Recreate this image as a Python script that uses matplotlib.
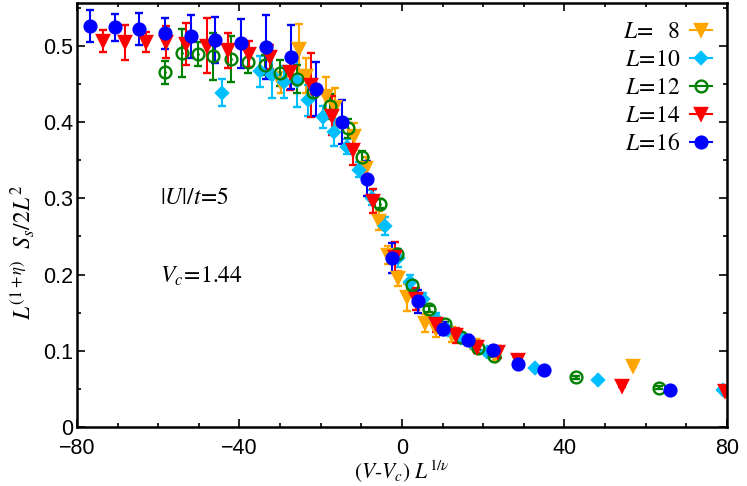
import numpy as np
import matplotlib
matplotlib.use("Agg")
import matplotlib.pyplot as plt
import matplotlib.ticker as ticker

plt.rcParams['font.family'] = ['Liberation Sans', 'DejaVu Sans']
plt.rcParams['mathtext.fontset'] = 'stix'

# scaled data
x_L8 = [-29.8, -25.4, -23.5, -18.6, -16.5, -11.9, -8.8, -5.6, -3.4, -0.9, 1.2, 5.6, 8.5, 12.4, 17.5, 23.2, 56.9]
y_L8 = [0.452, 0.496, 0.461, 0.435, 0.420, 0.382, 0.340, 0.271, 0.226, 0.195, 0.170, 0.136, 0.128, 0.121, 0.108, 0.093, 0.080]
e_L8 = [0.014, 0.033, 0.023, 0.025, 0.025, 0.017, 0.015, 0.012, 0.012, 0.010, 0.018, 0.012, 0.010, 0.010, 0.006, 0.005, 0.002]

x_L10 = [-44.3, -35.0, -32.0, -29.0, -25.9, -23.2, -19.5, -16.6, -13.6, -10.5, -7.3, -4.1, -1.0, 2.0, 5.1, 8.3, 11.4, 14.6, 17.8, 21.0, 32.7, 48.3, 79.1]
y_L10 = [0.439, 0.467, 0.462, 0.453, 0.455, 0.429, 0.407, 0.387, 0.368, 0.338, 0.301, 0.264, 0.222, 0.190, 0.168, 0.142, 0.127, 0.117, 0.108, 0.098, 0.077, 0.061, 0.048]
e_L10 = [0.018, 0.020, 0.030, 0.021, 0.035, 0.020, 0.015, 0.018, 0.010, 0.010, 0.010, 0.012, 0.012, 0.010, 0.008, 0.008, 0.006, 0.005, 0.004, 0.004, 0.002, 0.002, 0.002]

x_L12 = [-58.3, -54.2, -50.1, -46.4, -42.0, -37.8, -33.6, -30.0, -25.8, -22.0, -17.7, -13.3, -9.7, -5.5, -1.3, 2.5, 6.6, 10.7, 14.6, 18.7, 22.6, 42.9, 63.3]
y_L12 = [0.466, 0.491, 0.490, 0.487, 0.483, 0.479, 0.475, 0.465, 0.457, 0.440, 0.421, 0.392, 0.355, 0.293, 0.227, 0.186, 0.155, 0.135, 0.118, 0.104, 0.093, 0.065, 0.051]
e_L12 = [0.015, 0.032, 0.016, 0.031, 0.030, 0.014, 0.013, 0.017, 0.018, 0.011, 0.016, 0.012, 0.008, 0.006, 0.006, 0.005, 0.004, 0.003, 0.003, 0.003, 0.002, 0.002, 0.002]

x_L14 = [-73.5, -68.2, -63.1, -58.1, -53.2, -47.9, -42.7, -37.6, -32.5, -27.6, -22.4, -17.2, -12.1, -7.0, -1.8, 3.5, 8.4, 13.4, 18.4, 23.6, 28.7, 54.2, 79.5]
y_L14 = [0.507, 0.505, 0.506, 0.506, 0.503, 0.501, 0.495, 0.490, 0.486, 0.466, 0.449, 0.409, 0.364, 0.297, 0.223, 0.168, 0.135, 0.120, 0.105, 0.098, 0.088, 0.054, 0.047]
e_L14 = [0.014, 0.023, 0.013, 0.021, 0.027, 0.036, 0.023, 0.017, 0.016, 0.023, 0.042, 0.026, 0.020, 0.016, 0.020, 0.014, 0.010, 0.010, 0.008, 0.008, 0.004, 0.002, 0.002]

x_L16 = [-76.9, -70.7, -64.7, -58.3, -52.0, -46.0, -39.6, -33.5, -27.3, -21.2, -14.8, -8.6, -2.4, 3.9, 10.2, 16.2, 22.4, 28.7, 34.9, 66.0]
y_L16 = [0.527, 0.525, 0.523, 0.517, 0.513, 0.508, 0.504, 0.499, 0.486, 0.444, 0.400, 0.326, 0.222, 0.165, 0.129, 0.114, 0.101, 0.083, 0.075, 0.048]
e_L16 = [0.021, 0.018, 0.021, 0.020, 0.028, 0.030, 0.032, 0.042, 0.042, 0.035, 0.029, 0.023, 0.020, 0.015, 0.008, 0.006, 0.005, 0.003, 0.002, 0.002]

labels = [r'$\mathit{L\!=\ \ 8}$', r'$\mathit{L\!=\!10}$', r'$\mathit{L\!=\!12}$',
          r'$\mathit{L\!=\!14}$', r'$\mathit{L\!=\!16}$']

series = [
    (x_L8, y_L8, e_L8, 'orange', 'v', True),
    (x_L10, y_L10, e_L10, 'deepskyblue', 'D', True),
    (x_L12, y_L12, e_L12, 'green', 'o', False),
    (x_L14, y_L14, e_L14, 'red', 'v', True),
    (x_L16, y_L16, e_L16, 'blue', 'o', True),
]

fig = plt.figure(figsize=(7.47, 4.86), dpi=100)
ax = fig.add_axes([0.103, 0.122, 0.870, 0.872])

handles = []
for (xs, ys, es, col, mk, filled), lab in zip(series, labels):
    ms = 6.5 if mk == 'D' else 8.5
    mfc = col if filled else 'none'
    ax.errorbar(xs, ys, yerr=es, fmt=mk, color=col, ms=ms, mfc=mfc, mec=col,
                mew=1.7, elinewidth=1.5, capsize=3, capthick=1.5)
    if not filled:
        ax.plot(xs, ys, '.', color=col, ms=2)
    # legend proxy: gnuplot style horizontal bar with caps
    h = ax.errorbar([], [], xerr=[], fmt=mk, color=col, ms=ms, mfc=mfc, mec=col,
                    mew=1.7, elinewidth=1.5, capsize=3, capthick=1.5)
    handles.append(h)

ax.legend(handles, labels, loc='upper right', bbox_to_anchor=(1.0, 0.99),
          markerfirst=False, frameon=False, fontsize=17, handlelength=1.0,
          handletextpad=0.35, labelspacing=0.25, borderaxespad=0.2)

ax.text(-59.5, 0.30, r'$|U|/t\!=\!\mathit{5}$', fontsize=17, va='center')
ax.text(-59.5, 0.198, r'$V_c\!=\!\mathit{1.44}$', fontsize=17, va='center')

ax.set_xlim(-80, 80)
ax.set_ylim(0, 0.557)
ax.xaxis.set_major_locator(ticker.MultipleLocator(40))
ax.xaxis.set_minor_locator(ticker.MultipleLocator(10))
ax.yaxis.set_major_locator(ticker.MultipleLocator(0.1))
ax.yaxis.set_minor_locator(ticker.MultipleLocator(0.05))
ax.yaxis.set_major_formatter(ticker.FormatStrFormatter('%g'))
ax.tick_params(which='both', direction='in', top=True, right=True, width=1.2, labelsize=15.5)
ax.tick_params(which='major', length=6)
ax.tick_params(which='minor', length=3)
ax.tick_params(axis='x', pad=8)
ax.tick_params(axis='y', pad=3)
for s in ax.spines.values():
    s.set_linewidth(1.8)

ax.set_xlabel(r'$(V\text{-}V_c)\ L^{\mathit{1}/\nu}$', fontsize=15.5, labelpad=0)
ax.set_ylabel(r'$L^{(\mathit{1+}\eta)}\ \ S_s/\mathit{2}L^{\mathit{2}}$', fontsize=17)
ax.yaxis.set_label_coords(-0.062, 0.41)

fig.savefig('out.png', dpi=100)
